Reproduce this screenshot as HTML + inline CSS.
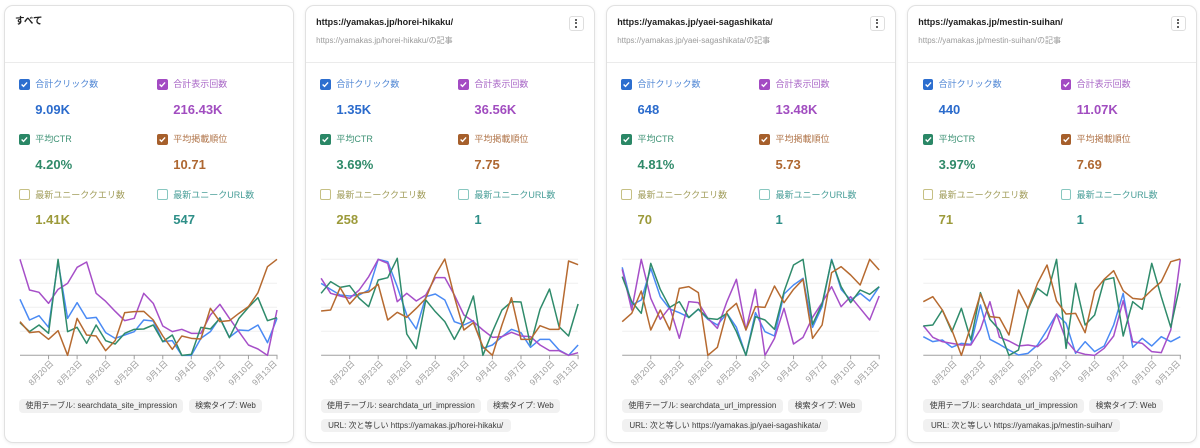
<!DOCTYPE html>
<html><head><meta charset="utf-8">
<style>
*{margin:0;padding:0;box-sizing:border-box}
html,body{width:1200px;height:448px;background:#fff;overflow:hidden}
body{position:relative;font-family:"Liberation Sans","Noto Sans CJK JP",sans-serif}
.card{position:absolute;top:5px;width:290px;height:438px;border:1px solid #e1e1e1;border-radius:9px;background:#fff;box-shadow:0 1px 3px rgba(0,0,0,.07)}
.sep{position:absolute;left:0;right:0;top:56.3px;height:1px;background:#ebebeb}
.title{position:absolute;left:10.5px;top:9.7px;font-size:9px;line-height:12px;font-weight:bold;color:#222;white-space:nowrap}
.sub{position:absolute;left:10.5px;top:29.7px;font-size:8px;line-height:10px;color:#9a9a9a;white-space:nowrap}
.kebab{position:absolute;left:263px;top:9.7px;width:15.3px;height:15.3px;border:1px solid #dedede;border-radius:3px}
.kebab i{position:absolute;left:5.7px;width:1.9px;height:1.9px;border-radius:50%;background:#333}
.cb{position:absolute;width:10.5px;height:10.5px;border-radius:2px}
.cb svg{position:absolute;left:0;top:0}
.lb{position:absolute;font-size:9px;line-height:12px;white-space:nowrap}
.val{position:absolute;font-size:13px;line-height:15px;font-weight:bold;white-space:nowrap}
.chip{position:absolute;height:13.4px;line-height:13.4px;font-size:8px;color:#3a3a3a;background:#f1f1f1;border-radius:4px;text-align:center;white-space:nowrap}
.c1{left:14.8px}.c2{left:152.8px}.l1{left:30.8px}.l2{left:168.8px}
.r1c{top:73px}.r2c{top:128.3px}.r3c{top:183.3px}
.r1l{top:72px}.r2l{top:127.3px}.r3l{top:182.6px}
.r1v{top:95.5px}.r2v{top:150.8px}.r3v{top:206px}
.bl{background:#2c6ecf}.pu{background:#a34bc3}.gr{background:#2a8766}.br{background:#a65f2b}
.ol{border:1.2px solid #c6c084;background:#fff}.te{border:1.2px solid #88c7c0;background:#fff}
.tbl{color:#4f86d4}.tpu{color:#a866c6}.tgr{color:#3f9376}.tbr{color:#b07449}.tol{color:#a29e5c}.tte{color:#4a9f99}
.vbl{color:#2b6bcc}.vpu{color:#a14dc0}.vgr{color:#2f8a69}.vbr{color:#ae6731}.vol{color:#9c9a3a}.vte{color:#2e8f88}
svg.ov{position:absolute;left:0;top:0;z-index:5}
</style></head><body>

<!-- CARD 1 -->
<div class="card" style="left:3.5px">
<div class="title" style="font-size:9.5px">すべて</div>
<div class="sep"></div>
<div class="cb bl c1 r1c"><svg width="10.5" height="10.5" viewBox="0 0 10 10"><path d="M2.5 5.2L4.3 7L7.7 3.3" stroke="#fff" stroke-width="1.3" fill="none"/></svg></div>
<div class="lb tbl l1 r1l">合計クリック数</div>
<div class="val vbl l1 r1v">9.09K</div>
<div class="cb pu c2 r1c"><svg width="10.5" height="10.5" viewBox="0 0 10 10"><path d="M2.5 5.2L4.3 7L7.7 3.3" stroke="#fff" stroke-width="1.3" fill="none"/></svg></div>
<div class="lb tpu l2 r1l">合計表示回数</div>
<div class="val vpu l2 r1v">216.43K</div>
<div class="cb gr c1 r2c"><svg width="10.5" height="10.5" viewBox="0 0 10 10"><path d="M2.5 5.2L4.3 7L7.7 3.3" stroke="#fff" stroke-width="1.3" fill="none"/></svg></div>
<div class="lb tgr l1 r2l">平均CTR</div>
<div class="val vgr l1 r2v">4.20%</div>
<div class="cb br c2 r2c"><svg width="10.5" height="10.5" viewBox="0 0 10 10"><path d="M2.5 5.2L4.3 7L7.7 3.3" stroke="#fff" stroke-width="1.3" fill="none"/></svg></div>
<div class="lb tbr l2 r2l">平均掲載順位</div>
<div class="val vbr l2 r2v">10.71</div>
<div class="cb ol c1 r3c"></div>
<div class="lb tol l1 r3l">最新ユニーククエリ数</div>
<div class="val vol l1 r3v">1.41K</div>
<div class="cb te c2 r3c"></div>
<div class="lb tte l2 r3l">最新ユニークURL数</div>
<div class="val vte l2 r3v">547</div>
<div class="chip" style="left:14.8px;top:393.3px;width:164px">使用テーブル: searchdata_site_impression</div>
<div class="chip" style="left:184.5px;top:393.3px;width:73px">検索タイプ: Web</div>
</div>

<!-- CARD 2 -->
<div class="card" style="left:304.6px">
<div class="title">https://yamakas.jp/horei-hikaku/</div>
<div class="sub">https://yamakas.jp/horei-hikaku/の記事</div>
<div class="kebab"><i style="top:2.3px"></i><i style="top:5.7px"></i><i style="top:9.1px"></i></div>
<div class="sep"></div>
<div class="cb bl c1 r1c"><svg width="10.5" height="10.5" viewBox="0 0 10 10"><path d="M2.5 5.2L4.3 7L7.7 3.3" stroke="#fff" stroke-width="1.3" fill="none"/></svg></div>
<div class="lb tbl l1 r1l">合計クリック数</div>
<div class="val vbl l1 r1v">1.35K</div>
<div class="cb pu c2 r1c"><svg width="10.5" height="10.5" viewBox="0 0 10 10"><path d="M2.5 5.2L4.3 7L7.7 3.3" stroke="#fff" stroke-width="1.3" fill="none"/></svg></div>
<div class="lb tpu l2 r1l">合計表示回数</div>
<div class="val vpu l2 r1v">36.56K</div>
<div class="cb gr c1 r2c"><svg width="10.5" height="10.5" viewBox="0 0 10 10"><path d="M2.5 5.2L4.3 7L7.7 3.3" stroke="#fff" stroke-width="1.3" fill="none"/></svg></div>
<div class="lb tgr l1 r2l">平均CTR</div>
<div class="val vgr l1 r2v">3.69%</div>
<div class="cb br c2 r2c"><svg width="10.5" height="10.5" viewBox="0 0 10 10"><path d="M2.5 5.2L4.3 7L7.7 3.3" stroke="#fff" stroke-width="1.3" fill="none"/></svg></div>
<div class="lb tbr l2 r2l">平均掲載順位</div>
<div class="val vbr l2 r2v">7.75</div>
<div class="cb ol c1 r3c"></div>
<div class="lb tol l1 r3l">最新ユニーククエリ数</div>
<div class="val vol l1 r3v">258</div>
<div class="cb te c2 r3c"></div>
<div class="lb tte l2 r3l">最新ユニークURL数</div>
<div class="val vte l2 r3v">1</div>
<div class="chip" style="left:15.1px;top:393.3px;width:160.3px">使用テーブル: searchdata_url_impression</div>
<div class="chip" style="left:181.1px;top:393.3px;width:73.3px">検索タイプ: Web</div>
<div class="chip" style="left:15.1px;top:413px;width:190px">URL: 次と等しい https://yamakas.jp/horei-hikaku/</div>
</div>

<!-- CARD 3 -->
<div class="card" style="left:605.7px">
<div class="title">https://yamakas.jp/yaei-sagashikata/</div>
<div class="sub">https://yamakas.jp/yaei-sagashikata/の記事</div>
<div class="kebab"><i style="top:2.3px"></i><i style="top:5.7px"></i><i style="top:9.1px"></i></div>
<div class="sep"></div>
<div class="cb bl c1 r1c"><svg width="10.5" height="10.5" viewBox="0 0 10 10"><path d="M2.5 5.2L4.3 7L7.7 3.3" stroke="#fff" stroke-width="1.3" fill="none"/></svg></div>
<div class="lb tbl l1 r1l">合計クリック数</div>
<div class="val vbl l1 r1v">648</div>
<div class="cb pu c2 r1c"><svg width="10.5" height="10.5" viewBox="0 0 10 10"><path d="M2.5 5.2L4.3 7L7.7 3.3" stroke="#fff" stroke-width="1.3" fill="none"/></svg></div>
<div class="lb tpu l2 r1l">合計表示回数</div>
<div class="val vpu l2 r1v">13.48K</div>
<div class="cb gr c1 r2c"><svg width="10.5" height="10.5" viewBox="0 0 10 10"><path d="M2.5 5.2L4.3 7L7.7 3.3" stroke="#fff" stroke-width="1.3" fill="none"/></svg></div>
<div class="lb tgr l1 r2l">平均CTR</div>
<div class="val vgr l1 r2v">4.81%</div>
<div class="cb br c2 r2c"><svg width="10.5" height="10.5" viewBox="0 0 10 10"><path d="M2.5 5.2L4.3 7L7.7 3.3" stroke="#fff" stroke-width="1.3" fill="none"/></svg></div>
<div class="lb tbr l2 r2l">平均掲載順位</div>
<div class="val vbr l2 r2v">5.73</div>
<div class="cb ol c1 r3c"></div>
<div class="lb tol l1 r3l">最新ユニーククエリ数</div>
<div class="val vol l1 r3v">70</div>
<div class="cb te c2 r3c"></div>
<div class="lb tte l2 r3l">最新ユニークURL数</div>
<div class="val vte l2 r3v">1</div>
<div class="chip" style="left:15.3px;top:393.3px;width:160.7px">使用テーブル: searchdata_url_impression</div>
<div class="chip" style="left:181.6px;top:393.3px;width:73.4px">検索タイプ: Web</div>
<div class="chip" style="left:15.3px;top:413px;width:206.3px">URL: 次と等しい https://yamakas.jp/yaei-sagashikata/</div>
</div>

<!-- CARD 4 -->
<div class="card" style="left:906.8px">
<div class="title">https://yamakas.jp/mestin-suihan/</div>
<div class="sub">https://yamakas.jp/mestin-suihan/の記事</div>
<div class="kebab"><i style="top:2.3px"></i><i style="top:5.7px"></i><i style="top:9.1px"></i></div>
<div class="sep"></div>
<div class="cb bl c1 r1c"><svg width="10.5" height="10.5" viewBox="0 0 10 10"><path d="M2.5 5.2L4.3 7L7.7 3.3" stroke="#fff" stroke-width="1.3" fill="none"/></svg></div>
<div class="lb tbl l1 r1l">合計クリック数</div>
<div class="val vbl l1 r1v">440</div>
<div class="cb pu c2 r1c"><svg width="10.5" height="10.5" viewBox="0 0 10 10"><path d="M2.5 5.2L4.3 7L7.7 3.3" stroke="#fff" stroke-width="1.3" fill="none"/></svg></div>
<div class="lb tpu l2 r1l">合計表示回数</div>
<div class="val vpu l2 r1v">11.07K</div>
<div class="cb gr c1 r2c"><svg width="10.5" height="10.5" viewBox="0 0 10 10"><path d="M2.5 5.2L4.3 7L7.7 3.3" stroke="#fff" stroke-width="1.3" fill="none"/></svg></div>
<div class="lb tgr l1 r2l">平均CTR</div>
<div class="val vgr l1 r2v">3.97%</div>
<div class="cb br c2 r2c"><svg width="10.5" height="10.5" viewBox="0 0 10 10"><path d="M2.5 5.2L4.3 7L7.7 3.3" stroke="#fff" stroke-width="1.3" fill="none"/></svg></div>
<div class="lb tbr l2 r2l">平均掲載順位</div>
<div class="val vbr l2 r2v">7.69</div>
<div class="cb ol c1 r3c"></div>
<div class="lb tol l1 r3l">最新ユニーククエリ数</div>
<div class="val vol l1 r3v">71</div>
<div class="cb te c2 r3c"></div>
<div class="lb tte l2 r3l">最新ユニークURL数</div>
<div class="val vte l2 r3v">1</div>
<div class="chip" style="left:15.5px;top:393.3px;width:160.7px">使用テーブル: searchdata_url_impression</div>
<div class="chip" style="left:181.5px;top:393.3px;width:73.4px">検索タイプ: Web</div>
<div class="chip" style="left:15.5px;top:413px;width:196.7px">URL: 次と等しい https://yamakas.jp/mestin-suihan/</div>
</div>

<svg class="ov" width="1200" height="448" viewBox="0 0 1200 448">
<defs>
<g id="axis">
<g stroke="#efefef" stroke-width="1">
<line x1="20" x2="277" y1="259.3" y2="259.3"/>
<line x1="20" x2="277" y1="283.3" y2="283.3"/>
<line x1="20" x2="277" y1="307.3" y2="307.3"/>
<line x1="20" x2="277" y1="331.3" y2="331.3"/>
</g>
<line x1="20" x2="277.5" y1="355.3" y2="355.3" stroke="#a0a0a0" stroke-width="1"/>
<path d="M48.56 355.3v4M77.11 355.3v4M105.67 355.3v4M134.22 355.3v4M162.78 355.3v4M191.33 355.3v4M219.89 355.3v4M248.44 355.3v4M277 355.3v4" stroke="#a0a0a0" stroke-width="1"/>
</g>
<g id="lbl" font-family="Liberation Sans, Noto Sans CJK JP, sans-serif" font-size="8.5" fill="#9e9e9e" text-anchor="end">
</g>
</defs>

<g font-family="Liberation Sans, Noto Sans CJK JP, sans-serif" font-size="8.5" fill="#9e9e9e" text-anchor="end" transform="translate(3,-1)">
<text transform="translate(51,365) rotate(-45)">8月20日</text>
<text transform="translate(79.6,365) rotate(-45)">8月23日</text>
<text transform="translate(108.2,365) rotate(-45)">8月26日</text>
<text transform="translate(136.7,365) rotate(-45)">8月29日</text>
<text transform="translate(165.3,365) rotate(-45)">9月1日</text>
<text transform="translate(193.8,365) rotate(-45)">9月4日</text>
<text transform="translate(222.4,365) rotate(-45)">9月7日</text>
<text transform="translate(250.9,365) rotate(-45)">9月10日</text>
<text transform="translate(274.5,365) rotate(-45)">9月13日</text>
</g>
<g font-family="Liberation Sans, Noto Sans CJK JP, sans-serif" font-size="8.5" fill="#9e9e9e" text-anchor="end" transform="translate(304.1,-1)">
<text transform="translate(51,365) rotate(-45)">8月20日</text>
<text transform="translate(79.6,365) rotate(-45)">8月23日</text>
<text transform="translate(108.2,365) rotate(-45)">8月26日</text>
<text transform="translate(136.7,365) rotate(-45)">8月29日</text>
<text transform="translate(165.3,365) rotate(-45)">9月1日</text>
<text transform="translate(193.8,365) rotate(-45)">9月4日</text>
<text transform="translate(222.4,365) rotate(-45)">9月7日</text>
<text transform="translate(250.9,365) rotate(-45)">9月10日</text>
<text transform="translate(274.5,365) rotate(-45)">9月13日</text>
</g>
<g font-family="Liberation Sans, Noto Sans CJK JP, sans-serif" font-size="8.5" fill="#9e9e9e" text-anchor="end" transform="translate(605.2,-1)">
<text transform="translate(51,365) rotate(-45)">8月20日</text>
<text transform="translate(79.6,365) rotate(-45)">8月23日</text>
<text transform="translate(108.2,365) rotate(-45)">8月26日</text>
<text transform="translate(136.7,365) rotate(-45)">8月29日</text>
<text transform="translate(165.3,365) rotate(-45)">9月1日</text>
<text transform="translate(193.8,365) rotate(-45)">9月4日</text>
<text transform="translate(222.4,365) rotate(-45)">9月7日</text>
<text transform="translate(250.9,365) rotate(-45)">9月10日</text>
<text transform="translate(274.5,365) rotate(-45)">9月13日</text>
</g>
<g font-family="Liberation Sans, Noto Sans CJK JP, sans-serif" font-size="8.5" fill="#9e9e9e" text-anchor="end" transform="translate(906.3,-1)">
<text transform="translate(51,365) rotate(-45)">8月20日</text>
<text transform="translate(79.6,365) rotate(-45)">8月23日</text>
<text transform="translate(108.2,365) rotate(-45)">8月26日</text>
<text transform="translate(136.7,365) rotate(-45)">8月29日</text>
<text transform="translate(165.3,365) rotate(-45)">9月1日</text>
<text transform="translate(193.8,365) rotate(-45)">9月4日</text>
<text transform="translate(222.4,365) rotate(-45)">9月7日</text>
<text transform="translate(250.9,365) rotate(-45)">9月10日</text>
<text transform="translate(274.5,365) rotate(-45)">9月13日</text>
</g>

<use href="#axis"/>
<use href="#axis" transform="translate(301.1,0)"/>
<use href="#axis" transform="translate(602.2,0)"/>
<use href="#axis" transform="translate(903.3,0)"/>

<g fill="none" stroke-width="1.5" stroke-linejoin="round">
<!-- card 1 -->
<g transform="translate(20,230) scale(9.5185,0.33333)">
<polyline vector-effect="non-scaling-stroke" stroke="#4a8af4" points="0,208 1,270 2,257 3,292 4,95 5,265 6,218 7,265 8,262 9,308 10,325 11,315 12,305 13,270 14,273 15,335 16,332 17,376 18,376 19,325 20,305 21,263 22,322 23,300 24,302 25,285 26,338 27,265"/>
<polyline vector-effect="non-scaling-stroke" stroke="#a64fc8" points="0,88 1,180 2,187 3,220 4,178 5,160 6,112 7,96 8,190 9,214 10,244 11,272 12,265 13,190 14,220 15,288 16,305 17,298 18,310 19,310 20,255 21,223 22,265 23,305 24,345 25,357 26,376 27,240"/>
<polyline vector-effect="non-scaling-stroke" stroke="#2f8b6b" points="0,278 1,305 2,285 3,310 4,88 5,305 6,292 7,340 8,285 9,332 10,342 11,310 12,298 13,297 14,285 15,335 16,315 17,376 18,373 19,292 20,297 21,265 22,323 23,265 24,232 25,203 26,272 27,263"/>
<polyline vector-effect="non-scaling-stroke" stroke="#b66a30" points="0,275 1,308 2,305 3,328 4,302 5,376 6,265 7,315 8,318 9,362 10,332 11,248 12,245 13,244 14,270 15,318 16,358 17,318 18,325 19,327 20,235 21,275 22,272 23,250 24,230 25,188 26,110 27,88"/>
</g>
<!-- card 2 -->
<g transform="translate(321.1,230) scale(9.5185,0.33333)">
<polyline vector-effect="non-scaling-stroke" stroke="#4a8af4" points="0,160 1,178 2,195 3,198 4,195 5,180 6,88 7,95 8,170 9,255 10,297 11,200 12,192 13,210 14,275 15,285 16,272 17,355 18,345 19,320 20,298 21,308 22,352 23,328 24,328 25,360 26,376 27,345"/>
<polyline vector-effect="non-scaling-stroke" stroke="#a64fc8" points="0,145 1,190 2,198 3,205 4,180 5,140 6,88 7,100 8,215 9,190 10,213 11,195 12,143 13,143 14,195 15,255 16,275 17,300 18,322 19,320 20,307 21,318 22,320 23,345 24,362 25,362 26,376 27,368"/>
<polyline vector-effect="non-scaling-stroke" stroke="#2f8b6b" points="0,190 1,155 2,172 3,167 4,205 5,230 6,150 7,143 8,85 9,312 10,356 11,210 12,245 13,275 14,328 15,275 16,198 17,376 18,305 19,240 20,215 21,216 22,345 23,238 24,177 25,290 26,318 27,222"/>
<polyline vector-effect="non-scaling-stroke" stroke="#b66a30" points="0,243 1,240 2,173 3,222 4,190 5,186 6,163 7,270 8,247 9,262 10,235 11,205 12,135 13,87 14,200 15,300 16,278 17,350 18,376 19,285 20,203 21,328 22,328 23,287 24,298 25,298 26,93 27,104"/>
</g>
<!-- card 3 -->
<g transform="translate(622.2,230) scale(9.5185,0.33333)">
<polyline vector-effect="non-scaling-stroke" stroke="#4a8af4" points="0,112 1,225 2,210 3,115 4,200 5,237 6,248 7,262 8,238 9,268 10,285 11,250 12,292 13,376 14,248 15,305 16,318 17,192 18,165 19,145 20,292 21,230 22,88 23,178 24,210 25,190 26,213 27,170"/>
<polyline vector-effect="non-scaling-stroke" stroke="#a64fc8" points="0,118 1,240 2,88 3,205 4,268 5,232 6,325 7,215 8,218 9,265 10,295 11,215 12,148 13,300 14,178 15,376 16,325 17,235 18,342 19,322 20,262 21,218 22,170 23,230 24,200 25,235 26,270 27,198"/>
<polyline vector-effect="non-scaling-stroke" stroke="#2f8b6b" points="0,140 1,215 2,250 3,100 4,178 5,232 6,215 7,263 8,237 9,265 10,268 11,250 12,305 13,376 14,260 15,270 16,298 17,185 18,105 19,88 20,283 21,222 22,90 23,170 24,218 25,180 26,193 27,170"/>
<polyline vector-effect="non-scaling-stroke" stroke="#b66a30" points="0,275 1,250 2,183 3,300 4,240 5,300 6,175 7,170 8,188 9,376 10,352 11,245 12,220 13,300 14,230 15,232 16,168 17,218 18,178 19,148 20,325 21,285 22,128 23,110 24,135 25,165 26,88 27,120"/>
</g>
<!-- card 4 -->
<g transform="translate(923.3,230) scale(9.5185,0.33333)">
<polyline vector-effect="non-scaling-stroke" stroke="#4a8af4" points="0,320 1,335 2,330 3,352 4,340 5,343 6,225 7,328 8,343 9,360 10,375 11,370 12,345 13,300 14,252 15,280 16,370 17,335 18,365 19,348 20,285 21,190 22,352 23,325 24,348 25,320 26,335 27,320"/>
<polyline vector-effect="non-scaling-stroke" stroke="#a64fc8" points="0,287 1,322 2,335 3,340 4,345 5,345 6,298 7,215 8,322 9,333 10,348 11,345 12,350 13,325 14,252 15,330 16,365 17,373 18,376 19,355 20,318 21,212 22,335 23,340 24,365 25,368 26,300 27,88"/>
<polyline vector-effect="non-scaling-stroke" stroke="#2f8b6b" points="0,288 1,285 2,240 3,305 4,235 5,330 6,188 7,268 8,300 9,376 10,360 11,238 12,175 13,197 14,88 15,355 16,160 17,285 18,255 19,150 20,143 21,318 22,215 23,238 24,100 25,200 26,292 27,160"/>
<polyline vector-effect="non-scaling-stroke" stroke="#b66a30" points="0,215 1,200 2,240 3,300 4,376 5,288 6,192 7,260 8,263 9,315 10,180 11,236 12,160 13,105 14,213 15,252 16,250 17,308 18,183 19,148 20,122 21,182 22,205 23,208 24,180 25,155 26,95 27,87"/>
</g>
</g>
</svg>
</body></html>
